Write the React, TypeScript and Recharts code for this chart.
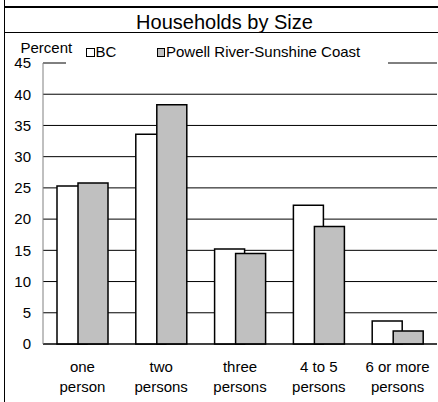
import React from 'react';
import { BarChart, Bar, XAxis, YAxis, CartesianGrid } from 'recharts';

const categories = ['one person', 'two persons', 'three persons', '4 to 5 persons', '6 or more persons'];
const labelLines = [
  ['one', 'person'],
  ['two', 'persons'],
  ['three', 'persons'],
  ['4 to 5', 'persons'],
  ['6 or more', 'persons'],
];
const bcValues = [25.3, 33.6, 15.2, 22.2, 3.7];
const prscValues = [25.8, 38.3, 14.5, 18.8, 2.1];
const yTicks = [0, 5, 10, 15, 20, 25, 30, 35, 40, 45];
const seriesNames = ['BC', 'Powell River-Sunshine Coast'];
const title = 'Households by Size';
const yLabel = 'Percent';

const data = categories.map((c, i) => ({ category: c, bc: bcValues[i], prsc: prscValues[i] }));

const FONT = '"Liberation Sans", Arial, Helvetica, sans-serif';

const XTick = (props: any) => {
  const { x, y, payload } = props;
  const idx = categories.indexOf(payload.value);
  const lines = labelLines[idx] || [payload.value];
  return (
    <text x={x} y={y} textAnchor="middle" fontSize={15} fill="#000" fontFamily={FONT}>
      <tspan x={x} y={y + 28}>{lines[0]}</tspan>
      {lines[1] ? <tspan x={x} y={y + 48}>{lines[1]}</tspan> : null}
    </text>
  );
};

export default function App() {
  return (
    <div style={{ position: 'relative', width: 438, height: 402, background: '#fff', fontFamily: FONT }}>
      <style>{'body{margin:0;background:#fff}'}</style>
      <BarChart
        width={438}
        height={402}
        data={data}
        margin={{ top: 63, right: 1, bottom: 0, left: 0 }}
        barGap={-9}
        barCategoryGap={0}
      >
        <CartesianGrid vertical={false} stroke="#000" strokeWidth={1} />
        <XAxis
          dataKey="category"
          height={58}
          axisLine={{ stroke: '#000', strokeWidth: 1 }}
          tickLine={false}
          tickSize={0}
          tickMargin={0}
          interval={0}
          tick={<XTick />}
        />
        <YAxis
          width={43}
          domain={[0, 45]}
          ticks={yTicks}
          interval={0}
          axisLine={{ stroke: '#808080', strokeWidth: 1 }}
          tickLine={false}
          tickSize={0}
          tickMargin={12}
          tick={{ fill: '#000', fontSize: 15, fontFamily: FONT }}
        />
        <Bar dataKey="bc" name={seriesNames[0]} fill="#ffffff" stroke="#000" strokeWidth={1.5} barSize={30} isAnimationActive={false} />
        <Bar dataKey="prsc" name={seriesNames[1]} fill="#c0c0c0" stroke="#000" strokeWidth={1.5} barSize={30} isAnimationActive={false} />
      </BarChart>
      <svg
        width={438}
        height={402}
        style={{ position: 'absolute', left: 0, top: 0, pointerEvents: 'none' }}
      >
        <line x1={4.5} y1={0} x2={4.5} y2={402} stroke="#000" strokeWidth={1} />
        <rect x={4} y={6} width={434} height={2} fill="#000" />
        <line x1={4} y1={32.5} x2={438} y2={32.5} stroke="#000" strokeWidth={1} />
        <text x={224.5} y={28.5} textAnchor="middle" fontSize={20} fill="#000" fontFamily={FONT}>{title}</text>
        <rect x={66} y={40} width={322} height={25} fill="#fff" />
        <text x={20.5} y={53} fontSize={15} fill="#000" fontFamily={FONT}>{yLabel}</text>
        <rect x={86.5} y={48.5} width={8} height={8} fill="#fff" stroke="#000" strokeWidth={1} />
        <text x={95.5} y={56.5} fontSize={15} fill="#000" fontFamily={FONT}>{seriesNames[0]}</text>
        <rect x={157.5} y={48.5} width={7} height={8} fill="#c0c0c0" stroke="#000" strokeWidth={1} />
        <text x={166} y={56.5} fontSize={15} fill="#000" fontFamily={FONT}>{seriesNames[1]}</text>
      </svg>
    </div>
  );
}
